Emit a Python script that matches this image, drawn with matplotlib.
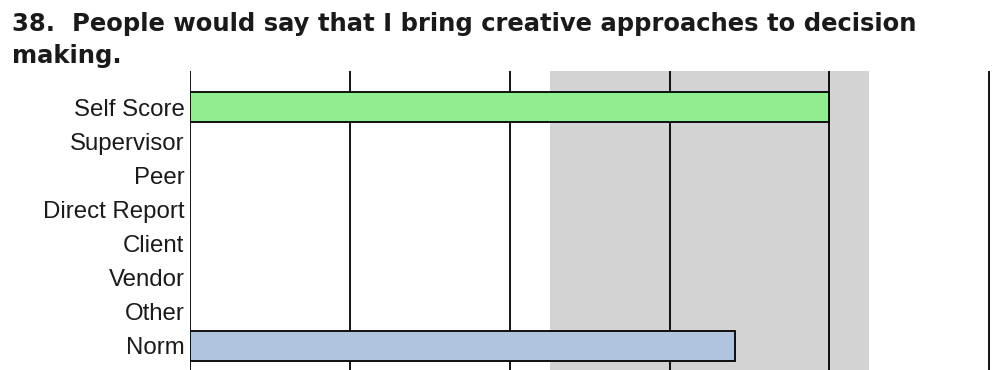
import matplotlib
matplotlib.use("Agg")
import matplotlib.pyplot as plt

# data
categories = ["Self Score", "Supervisor", "Peer", "Direct Report", "Client", "Vendor", "Other", "Norm"]
scores = [4.0, 0, 0, 0, 0, 0, 0, 3.41]
bar_colors = ["#90EE90", None, None, None, None, None, None, "#B0C4DE"]
band_low, band_high = 2.25, 4.25
grid_ticks = [0, 1, 2, 3, 4, 5]
title = "38.  People would say that I bring creative approaches to decision\nmaking."

fig = plt.figure(figsize=(10, 3.7), dpi=100)
ax = fig.add_axes([0.19, 0.0, 0.80, 1 - 71 / 370])

ax.axvspan(band_low, band_high, color="#D3D3D3", zorder=0, lw=0)
for t in grid_ticks:
    ax.axvline(t, color="black", lw=1.3, zorder=1)

ypos = list(range(len(categories)))
for y, v, c in zip(ypos, scores, bar_colors):
    if v > 0:
        ax.barh(y, v, height=0.88, color=c, edgecolor="black", lw=1.3, zorder=2)

ax.set_xlim(0, 5.005)
ax.set_ylim(7.71, -1.056)
ax.set_yticks(ypos)
ax.set_yticklabels(categories, fontsize=17.3, family="Liberation Sans", color="#1a1a1a")
ax.tick_params(axis="y", length=0, pad=4)
ax.set_xticks([])
for s in ax.spines.values():
    s.set_visible(False)

fig.text(0.012, 1 - 12 / 370, title, ha="left", va="top", fontsize=17.5, fontweight="bold",
         family="DejaVu Sans", color="#1a1a1a", linespacing=1.42)

fig.savefig("out.png", dpi=100)
